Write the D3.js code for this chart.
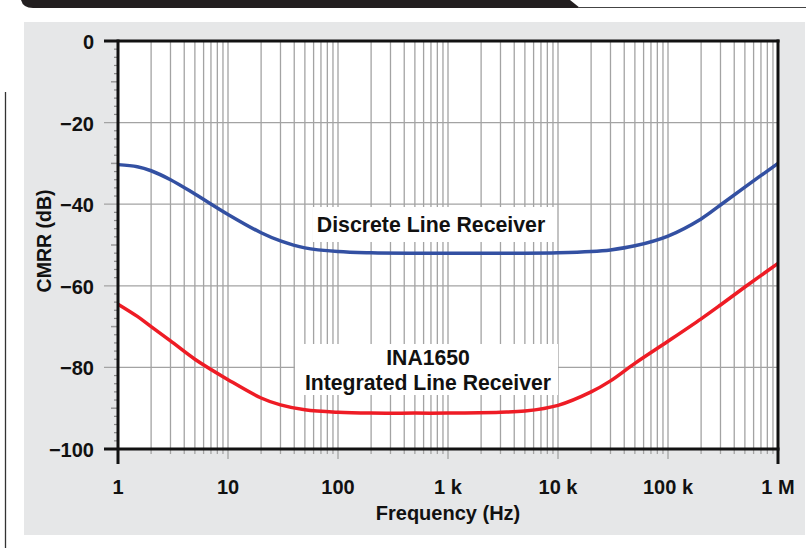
<!DOCTYPE html>
<html><head><meta charset="utf-8">
<script src="https://cdn.jsdelivr.net/npm/d3@7"></script>
<style>body{margin:0;background:#fff}svg{display:block}text{font-family:"Liberation Sans",Arial,sans-serif;font-weight:bold;fill:#111}</style>
</head><body>
<script>
const freqs = [1,1.5,2,3,5,10,20,30,50,100,200,500,1000,3000,5000,10000,20000,30000,50000,100000,200000,300000,500000,1000000];
const discrete = [-30.3,-30.8,-31.8,-34,-37.5,-42.5,-47,-49,-50.7,-51.6,-51.9,-52,-52,-52,-52,-51.9,-51.6,-51.2,-50.2,-47.8,-43.6,-40.2,-35.8,-30];
const ina1650 = [-64.5,-67.5,-70,-73.5,-78,-83,-87.5,-89.2,-90.4,-91,-91.2,-91.2,-91.2,-91,-90.7,-89.3,-86,-83.3,-79,-73.6,-68.1,-64.7,-60.3,-54.5];
const xTickValues = [1,10,100,1000,10000,100000,1000000];
const xTickLabels = ["1","10","100","1 k","10 k","100 k","1 M"];
const yTickValues = [0,-20,-40,-60,-80,-100];
const yTickLabels = ["0","\u221220","\u221240","\u221260","\u221280","\u2212100"];
const seriesNames = ["Discrete Line Receiver","INA1650","Integrated Line Receiver"];

const W=806,H=548;
const svg=d3.select("body").append("svg").attr("width",W).attr("height",H);
svg.append("rect").attr("width",W).attr("height",H).attr("fill","#fff");
svg.append("path").attr("d","M21,0 L570,0 L580,8 L33,8 Q23,8 21,0 Z").attr("fill","#231f20");
svg.append("line").attr("x1",578).attr("x2",806).attr("y1",7.5).attr("y2",7.5).attr("stroke","#444").attr("stroke-width",1);
svg.append("line").attr("x1",5.5).attr("x2",5.5).attr("y1",92).attr("y2",548).attr("stroke","#333").attr("stroke-width",1.3);
svg.append("rect").attr("x",24).attr("y",22).attr("width",781).attr("height",513).attr("fill","#e6e7e8");

const L=118,R=778,T=41,B=449;
const x=d3.scaleLog().domain([1,1e6]).range([L,R]);
const y=d3.scaleLinear().domain([-100,0]).range([B,T]);
svg.append("rect").attr("x",L).attr("y",T).attr("width",R-L).attr("height",B-T).attr("fill","#fff");

const g=svg.append("g");
const minor=[];
for(let d=1;d<1e6;d*=10){for(let k=2;k<=10;k++)minor.push(d*k);}
const vlines=minor.filter(v=>v<1e6);
g.selectAll(".vg").data(vlines).enter().append("line")
 .attr("x1",d=>x(d)).attr("x2",d=>x(d)).attr("y1",T).attr("y2",B)
 .attr("stroke","#a3a3a3").attr("stroke-width",1.3);
g.selectAll(".xt").data(vlines).enter().append("line")
 .attr("x1",d=>x(d)).attr("x2",d=>x(d)).attr("y1",B).attr("y2",d=>xTickValues.includes(d)?B+10:B+5)
 .attr("stroke","#a3a3a3").attr("stroke-width",1.3);
const yMid=[-20,-40,-60,-80];
g.selectAll(".hg").data(yMid).enter().append("line")
 .attr("x1",L-14).attr("x2",R).attr("y1",d=>y(d)).attr("y2",d=>y(d))
 .attr("stroke","#a3a3a3").attr("stroke-width",1.3);
const yMinor=d3.range(-98,0,2).filter(v=>v%10!==0);
g.selectAll(".ym").data(yMinor).enter().append("line")
 .attr("x1",L-4).attr("x2",L).attr("y1",d=>y(d)).attr("y2",d=>y(d)).attr("stroke","#888").attr("stroke-width",1.2);
g.selectAll(".y10").data([-10,-30,-50,-70,-90]).enter().append("line")
 .attr("x1",L-7).attr("x2",L).attr("y1",d=>y(d)).attr("y2",d=>y(d)).attr("stroke","#999").attr("stroke-width",1.5);

const line=d3.line().x(d=>x(d[0])).y(d=>y(d[1])).curve(d3.curveCatmullRom.alpha(0.5));
svg.append("path").datum(freqs.map((f,i)=>[f,discrete[i]])).attr("d",line)
 .attr("fill","none").attr("stroke","#3350a2").attr("stroke-width",3.5);
svg.append("path").datum(freqs.map((f,i)=>[f,ina1650[i]])).attr("d",line)
 .attr("fill","none").attr("stroke","#ee1c25").attr("stroke-width",3.5);

const ax=svg.append("g").attr("stroke","#111").attr("stroke-linecap","butt");
ax.append("line").attr("x1",L-14).attr("x2",R+1.5).attr("y1",T).attr("y2",T).attr("stroke-width",3);
ax.append("line").attr("x1",L-14).attr("x2",R+1.5).attr("y1",B).attr("y2",B).attr("stroke-width",3);
ax.append("line").attr("x1",L).attr("x2",L).attr("y1",T-1.5).attr("y2",B+15).attr("stroke-width",3);
ax.append("line").attr("x1",R).attr("x2",R).attr("y1",T-1.5).attr("y2",B+15).attr("stroke-width",3);

svg.selectAll(".xl").data(xTickValues).enter().append("text")
 .attr("x",d=>x(d)).attr("y",493.5).attr("text-anchor","middle").attr("font-size",20)
 .text((d,i)=>xTickLabels[i]);
svg.selectAll(".yl").data(yTickValues).enter().append("text")
 .attr("x",94).attr("y",d=>y(d)+8).attr("text-anchor","end").attr("font-size",20)
 .text((d,i)=>yTickLabels[i]);
svg.append("text").attr("x",448).attr("y",520).attr("text-anchor","middle").attr("font-size",20).text("Frequency (Hz)");
svg.append("text").attr("transform","translate(50.5,241) rotate(-90)").attr("text-anchor","middle").attr("font-size",19.5).text("CMRR (dB)");

svg.append("rect").attr("x",313).attr("y",207).attr("width",242).attr("height",35).attr("fill","#fff");
svg.append("text").attr("x",431).attr("y",231.5).attr("text-anchor","middle").attr("font-size",21.3).text(seriesNames[0]);
svg.append("rect").attr("x",295).attr("y",344).attr("width",263).attr("height",51).attr("fill","#fff");
svg.append("text").attr("x",428).attr("y",365).attr("text-anchor","middle").attr("font-size",21.2).text(seriesNames[1]);
svg.append("text").attr("x",428).attr("y",389.5).attr("text-anchor","middle").attr("font-size",21.2).text(seriesNames[2]);
</script>
</body></html>
